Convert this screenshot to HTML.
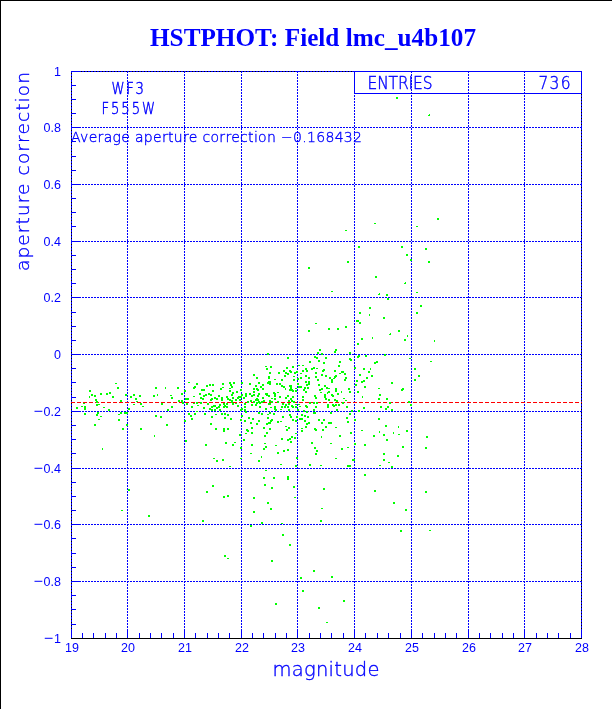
<!DOCTYPE html>
<html><head><meta charset="utf-8"><title>HSTPHOT: Field lmc_u4b107</title>
<style>
html,body{margin:0;padding:0;background:#fff;}
body{width:612px;height:709px;overflow:hidden;}
svg{display:block;}
text{fill:#0000ff;}
</style></head><body>
<svg width="612" height="709" viewBox="0 0 612 709">
<rect width="612" height="709" fill="#fff"/>
<g shape-rendering="crispEdges">
<rect x="0" y="0" width="612" height="1" fill="#000"/>
<rect x="0" y="0" width="1" height="709" fill="#000"/>
<g fill="#000">
<rect x="71" y="71" width="511" height="1"/>
<rect x="71" y="638" width="511" height="1"/>
<rect x="71" y="71" width="1" height="568"/>
<rect x="581" y="71" width="1" height="568"/>
</g>
<path d="M71.5 71V638M127.5 71V638M184.5 71V638M241.5 71V638M297.5 71V638M354.5 71V638M411.5 71V638M468.5 71V638M524.5 71V638M581.5 71V638" stroke="#0000ff" stroke-width="1" stroke-dasharray="2 1" fill="none"/>
<path d="M71 71.5H582M71 127.5H582M71 184.5H582M71 241.5H582M71 297.5H582M71 354.5H582M71 411.5H582M71 468.5H582M71 524.5H582M71 581.5H582" stroke="#0000ff" stroke-width="1" stroke-dasharray="2 1" stroke-dashoffset="1" fill="none"/>
<path d="M71 71.5h10M71 85.5h5M71 99.5h5M71 113.5h5M71 127.5h10M71 141.5h5M71 156.5h5M71 170.5h5M71 184.5h10M71 198.5h5M71 212.5h5M71 226.5h5M71 241.5h10M71 255.5h5M71 269.5h5M71 283.5h5M71 297.5h10M71 312.5h5M71 326.5h5M71 340.5h5M71 354.5h10M71 368.5h5M71 382.5h5M71 397.5h5M71 411.5h10M71 425.5h5M71 439.5h5M71 453.5h5M71 468.5h10M71 482.5h5M71 496.5h5M71 510.5h5M71 524.5h10M71 538.5h5M71 553.5h5M71 567.5h5M71 581.5h10M71 595.5h5M71 609.5h5M71 624.5h5M71.5 638v-9M82.5 638v-5M93.5 638v-5M105.5 638v-5M116.5 638v-5M127.5 638v-9M139.5 638v-5M150.5 638v-5M161.5 638v-5M173.5 638v-5M184.5 638v-9M195.5 638v-5M207.5 638v-5M218.5 638v-5M229.5 638v-5M241.5 638v-9M252.5 638v-5M263.5 638v-5M275.5 638v-5M286.5 638v-5M297.5 638v-9M309.5 638v-5M320.5 638v-5M331.5 638v-5M343.5 638v-5M354.5 638v-9M365.5 638v-5M377.5 638v-5M388.5 638v-5M400.5 638v-5M411.5 638v-9M422.5 638v-5M434.5 638v-5M445.5 638v-5M456.5 638v-5M468.5 638v-9M479.5 638v-5M490.5 638v-5M502.5 638v-5M513.5 638v-5M524.5 638v-9M536.5 638v-5M547.5 638v-5M558.5 638v-5M570.5 638v-5M581.5 638v-9" stroke="#0000ff" stroke-width="1" fill="none"/>
<rect x="71" y="638" width="511" height="1" fill="#000"/>
<path d="M71 402.5H582" stroke="#ff0000" stroke-width="1" stroke-dasharray="4 2" fill="none"/>
<rect x="354.5" y="71.5" width="227" height="22" stroke="#0000ff" fill="none"/>
</g>
<path d="M76 407h2v2h-2zM81 406h2v1h-2zM83 403h2v1h-2zM84 406h2v2h-2zM84 408h2v2h-2zM84 413h2v2h-2zM89 396h1v2h-1zM89 390h2v2h-2zM91 394h2v2h-2zM94 395h2v2h-2zM94 424h2v2h-2zM95 399h2v2h-2zM96 401h2v2h-2zM96 404h2v2h-2zM96 414h2v2h-2zM97 412h2v2h-2zM98 404h2v1h-2zM98 419h2v1h-2zM100 393h2v2h-2zM100 416h2v1h-2zM102 448h1v2h-1zM103 407h2v1h-2zM106 393h2v2h-2zM108 409h2v2h-2zM109 392h2v2h-2zM112 396h2v2h-2zM115 383h2v1h-2zM117 387h2v2h-2zM118 414h2v1h-2zM118 419h2v2h-2zM120 400h2v2h-2zM120 412h2v2h-2zM121 510h2v1h-2zM122 428h2v2h-2zM124 412h2v2h-2zM125 394h2v2h-2zM126 412h2v2h-2zM126 424h2v2h-2zM128 408h2v2h-2zM128 489h2v2h-2zM130 396h2v2h-2zM133 394h2v2h-2zM133 404h2v1h-2zM135 398h2v2h-2zM136 401h2v1h-2zM139 395h2v2h-2zM140 403h2v2h-2zM140 428h2v2h-2zM142 406h2v1h-2zM148 515h2v2h-2zM153 395h2v2h-2zM154 435h1v2h-1zM155 387h2v2h-2zM155 415h2v2h-2zM157 394h1v2h-1zM160 416h2v2h-2zM161 403h2v2h-2zM165 387h1v2h-1zM166 424h2v2h-2zM167 409h2v2h-2zM170 395h2v1h-2zM171 397h2v2h-2zM171 406h2v2h-2zM177 387h2v2h-2zM178 400h2v2h-2zM181 393h2v2h-2zM181 400h2v2h-2zM182 402h2v2h-2zM184 390h2v2h-2zM184 420h2v2h-2zM185 398h2v2h-2zM185 440h2v2h-2zM186 403h2v2h-2zM187 398h2v2h-2zM188 382h2v1h-2zM188 413h2v2h-2zM190 415h2v2h-2zM191 406h2v2h-2zM191 418h2v2h-2zM193 387h2v2h-2zM193 396h2v1h-2zM193 403h2v1h-2zM194 386h2v2h-2zM194 413h2v2h-2zM196 383h2v2h-2zM196 402h2v2h-2zM196 411h2v1h-2zM197 405h2v1h-2zM199 393h2v2h-2zM200 397h2v2h-2zM200 402h2v2h-2zM201 389h2v2h-2zM202 398h2v2h-2zM202 520h2v2h-2zM203 389h2v2h-2zM203 395h2v2h-2zM203 407h2v2h-2zM204 413h2v2h-2zM205 394h2v2h-2zM205 444h2v2h-2zM206 385h2v2h-2zM206 491h2v2h-2zM207 403h2v2h-2zM208 393h2v2h-2zM209 384h2v2h-2zM209 408h2v2h-2zM210 394h2v2h-2zM210 399h2v2h-2zM210 423h2v2h-2zM211 398h2v2h-2zM211 406h2v2h-2zM211 409h2v2h-2zM211 416h2v2h-2zM212 384h2v2h-2zM212 390h2v2h-2zM212 485h2v2h-2zM213 405h2v2h-2zM213 458h2v1h-2zM214 397h2v2h-2zM214 405h2v2h-2zM214 409h2v2h-2zM215 414h2v1h-2zM215 428h2v2h-2zM216 398h2v2h-2zM216 407h2v2h-2zM216 460h2v2h-2zM218 395h2v2h-2zM218 406h2v2h-2zM219 404h2v2h-2zM219 409h2v2h-2zM220 388h2v2h-2zM221 397h2v2h-2zM221 399h2v2h-2zM221 413h2v2h-2zM222 383h2v2h-2zM222 387h2v1h-2zM222 459h2v2h-2zM223 403h2v2h-2zM223 406h2v2h-2zM223 428h2v2h-2zM223 430h2v2h-2zM223 496h2v2h-2zM224 405h2v2h-2zM224 413h2v2h-2zM224 417h2v2h-2zM224 555h2v2h-2zM225 442h2v2h-2zM226 396h2v2h-2zM226 403h2v2h-2zM226 406h2v2h-2zM227 398h2v2h-2zM227 414h2v2h-2zM227 428h2v2h-2zM227 495h2v2h-2zM227 558h2v1h-2zM229 382h2v2h-2zM229 388h2v1h-2zM229 390h2v2h-2zM229 399h2v2h-2zM229 466h2v1h-2zM230 384h2v2h-2zM230 418h2v2h-2zM231 386h2v2h-2zM231 394h2v2h-2zM231 400h2v2h-2zM231 401h2v2h-2zM232 392h2v2h-2zM232 397h2v2h-2zM232 403h2v2h-2zM232 444h2v2h-2zM233 382h2v2h-2zM234 442h2v1h-2zM235 399h2v2h-2zM235 403h2v1h-2zM236 391h2v2h-2zM237 397h2v2h-2zM237 405h2v2h-2zM238 396h2v2h-2zM239 399h2v2h-2zM239 434h2v2h-2zM240 389h2v2h-2zM240 396h2v2h-2zM240 409h2v2h-2zM240 419h2v2h-2zM240 447h2v2h-2zM240 458h2v1h-2zM241 382h2v2h-2zM241 394h2v2h-2zM241 408h2v2h-2zM241 415h2v2h-2zM243 397h2v2h-2zM243 439h2v2h-2zM244 403h2v2h-2zM244 406h2v2h-2zM244 409h2v2h-2zM244 420h2v2h-2zM245 393h2v2h-2zM245 395h2v2h-2zM245 411h2v2h-2zM245 433h2v1h-2zM246 429h2v2h-2zM247 401h2v2h-2zM247 430h2v2h-2zM248 417h2v2h-2zM249 383h2v2h-2zM249 393h2v2h-2zM250 400h2v2h-2zM250 422h2v2h-2zM250 453h2v1h-2zM250 525h2v2h-2zM251 395h2v2h-2zM251 404h2v2h-2zM251 427h2v2h-2zM251 432h2v2h-2zM251 444h2v2h-2zM252 418h2v2h-2zM253 374h2v2h-2zM253 388h2v2h-2zM253 391h2v2h-2zM253 394h2v2h-2zM253 401h2v2h-2zM253 497h2v2h-2zM253 511h2v2h-2zM255 385h2v2h-2zM255 399h2v2h-2zM255 404h2v2h-2zM256 377h2v2h-2zM256 388h2v2h-2zM256 398h2v2h-2zM256 402h2v2h-2zM256 423h2v2h-2zM257 389h2v2h-2zM257 395h2v2h-2zM257 399h2v2h-2zM258 382h2v2h-2zM258 393h2v2h-2zM258 401h2v2h-2zM258 412h2v2h-2zM258 420h2v2h-2zM258 460h2v2h-2zM259 402h2v2h-2zM259 406h2v2h-2zM260 386h2v2h-2zM261 456h1v2h-1zM261 401h2v2h-2zM261 413h2v2h-2zM261 522h2v2h-2zM262 384h2v2h-2zM262 388h2v2h-2zM262 397h2v2h-2zM263 400h2v2h-2zM263 427h2v2h-2zM263 448h2v2h-2zM263 477h2v2h-2zM264 435h2v2h-2zM264 443h2v1h-2zM264 484h2v2h-2zM265 366h2v1h-2zM265 393h2v2h-2zM265 408h2v2h-2zM265 446h2v2h-2zM265 470h2v1h-2zM266 368h2v2h-2zM266 393h2v2h-2zM266 394h2v2h-2zM266 423h2v2h-2zM266 432h2v2h-2zM267 353h2v2h-2zM267 382h2v2h-2zM267 414h2v1h-2zM267 417h2v2h-2zM267 502h2v2h-2zM268 376h2v2h-2zM268 377h2v2h-2zM268 381h2v2h-2zM268 395h2v2h-2zM268 403h2v2h-2zM268 422h2v2h-2zM269 372h2v2h-2zM269 381h2v2h-2zM269 383h2v2h-2zM269 400h2v2h-2zM269 403h2v2h-2zM269 412h2v2h-2zM269 422h2v2h-2zM269 428h2v2h-2zM270 366h2v2h-2zM270 407h2v1h-2zM270 420h2v2h-2zM270 508h2v2h-2zM271 398h2v1h-2zM271 401h2v2h-2zM271 419h2v2h-2zM271 487h2v2h-2zM271 560h2v2h-2zM273 392h2v2h-2zM273 413h2v2h-2zM273 477h2v2h-2zM274 379h2v1h-2zM274 393h2v2h-2zM274 395h2v2h-2zM274 398h2v2h-2zM274 406h2v2h-2zM274 408h2v2h-2zM275 409h2v2h-2zM275 445h2v1h-2zM275 603h2v2h-2zM276 383h2v2h-2zM277 392h2v1h-2zM277 401h2v2h-2zM277 421h2v2h-2zM277 452h2v2h-2zM278 372h2v2h-2zM279 383h2v2h-2zM279 396h2v2h-2zM280 409h2v1h-2zM280 421h2v1h-2zM280 464h2v1h-2zM281 379h2v2h-2zM281 385h2v2h-2zM281 406h2v2h-2zM281 438h2v2h-2zM281 523h2v1h-2zM282 403h2v2h-2zM282 416h2v2h-2zM282 534h2v2h-2zM283 370h2v2h-2zM283 386h2v2h-2zM283 450h2v2h-2zM284 375h2v2h-2zM285 388h1v2h-1zM284 406h2v2h-2zM285 372h2v2h-2zM285 397h2v2h-2zM285 404h2v2h-2zM285 426h2v1h-2zM286 367h2v2h-2zM286 429h2v2h-2zM287 357h2v2h-2zM287 373h2v2h-2zM287 395h2v2h-2zM287 406h2v2h-2zM287 439h2v2h-2zM287 449h2v2h-2zM287 476h2v2h-2zM287 478h2v2h-2zM289 385h1v2h-1zM288 400h2v2h-2zM288 403h2v2h-2zM288 409h2v2h-2zM288 427h2v2h-2zM289 370h2v2h-2zM289 389h2v2h-2zM289 414h2v2h-2zM289 438h2v2h-2zM289 544h2v2h-2zM290 371h2v2h-2zM290 385h2v2h-2zM290 387h2v2h-2zM290 398h2v2h-2zM290 416h2v2h-2zM290 441h2v2h-2zM291 389h2v2h-2zM291 400h2v2h-2zM291 405h2v2h-2zM291 436h2v2h-2zM292 366h2v2h-2zM292 390h2v2h-2zM292 396h2v2h-2zM292 406h2v2h-2zM292 419h2v2h-2zM293 376h2v1h-2zM293 379h2v2h-2zM293 401h2v2h-2zM293 486h2v2h-2zM294 372h2v2h-2zM294 437h2v2h-2zM294 497h2v1h-2zM295 388h2v1h-2zM295 390h2v2h-2zM295 404h2v1h-2zM295 406h2v2h-2zM295 420h2v2h-2zM295 433h2v1h-2zM295 465h2v2h-2zM296 371h2v2h-2zM296 416h2v2h-2zM296 457h2v2h-2zM297 378h2v2h-2zM297 383h2v2h-2zM297 409h2v2h-2zM298 365h2v1h-2zM298 386h2v2h-2zM298 404h2v1h-2zM299 406h2v1h-2zM299 418h2v2h-2zM300 373h2v1h-2zM300 377h2v2h-2zM300 386h2v2h-2zM300 577h2v2h-2zM301 414h2v2h-2zM301 418h2v2h-2zM301 428h2v1h-2zM301 430h2v2h-2zM302 365h2v1h-2zM302 370h2v2h-2zM302 396h2v2h-2zM302 399h2v2h-2zM302 590h2v2h-2zM303 389h2v2h-2zM303 410h2v2h-2zM304 387h2v2h-2zM304 415h2v2h-2zM304 420h2v2h-2zM305 368h2v2h-2zM305 375h2v2h-2zM305 381h2v2h-2zM305 391h2v2h-2zM305 405h2v2h-2zM305 426h2v2h-2zM306 370h2v2h-2zM306 384h2v2h-2zM306 406h2v2h-2zM306 411h2v2h-2zM306 423h2v2h-2zM307 387h2v2h-2zM307 416h2v2h-2zM308 267h2v2h-2zM308 330h2v2h-2zM308 377h2v2h-2zM308 381h2v2h-2zM308 383h2v2h-2zM308 422h2v2h-2zM309 361h2v2h-2zM309 402h2v2h-2zM309 464h2v2h-2zM311 368h2v2h-2zM311 442h2v2h-2zM313 367h2v2h-2zM313 402h2v2h-2zM313 409h2v2h-2zM313 412h2v2h-2zM313 570h2v2h-2zM314 356h2v2h-2zM314 395h2v2h-2zM314 412h2v2h-2zM314 428h2v2h-2zM314 447h2v2h-2zM315 323h2v1h-2zM315 372h2v2h-2zM315 376h2v2h-2zM315 397h2v2h-2zM315 406h2v2h-2zM315 429h2v2h-2zM315 453h2v2h-2zM316 357h2v2h-2zM316 368h2v1h-2zM316 402h2v2h-2zM316 450h2v2h-2zM317 352h2v2h-2zM317 379h2v2h-2zM318 360h2v2h-2zM318 384h2v2h-2zM318 419h2v2h-2zM318 607h2v2h-2zM319 349h2v2h-2zM319 389h2v2h-2zM320 392h2v1h-2zM321 436h1v2h-1zM320 465h2v1h-2zM320 520h2v2h-2zM321 353h2v2h-2zM321 374h2v2h-2zM321 388h2v2h-2zM321 422h2v2h-2zM321 508h2v1h-2zM322 370h2v2h-2zM322 429h2v2h-2zM323 362h2v2h-2zM323 369h2v2h-2zM323 419h2v2h-2zM323 488h2v2h-2zM324 385h2v2h-2zM324 394h2v2h-2zM324 396h2v2h-2zM325 357h2v2h-2zM325 375h2v2h-2zM325 398h2v2h-2zM325 426h2v2h-2zM326 387h2v2h-2zM327 392h1v2h-1zM326 622h2v1h-2zM327 404h2v2h-2zM327 406h2v2h-2zM328 328h2v2h-2zM328 388h2v1h-2zM328 391h2v2h-2zM328 399h2v2h-2zM328 422h2v2h-2zM329 377h2v2h-2zM330 412h2v2h-2zM330 422h2v2h-2zM330 443h2v1h-2zM331 291h2v1h-2zM331 379h2v2h-2zM331 381h2v2h-2zM331 394h2v2h-2zM331 576h2v2h-2zM332 395h2v2h-2zM332 404h2v2h-2zM333 378h2v1h-2zM333 405h2v2h-2zM334 351h2v2h-2zM334 370h2v2h-2zM334 376h2v2h-2zM334 399h2v2h-2zM335 349h2v2h-2zM335 375h2v2h-2zM335 388h2v2h-2zM335 390h2v2h-2zM335 404h2v2h-2zM335 427h2v1h-2zM335 458h2v1h-2zM336 400h2v2h-2zM336 409h2v2h-2zM337 328h2v2h-2zM337 393h2v2h-2zM338 365h2v2h-2zM338 404h2v2h-2zM339 361h2v2h-2zM339 373h2v1h-2zM339 435h2v2h-2zM341 391h1v2h-1zM341 371h2v2h-2zM341 448h2v2h-2zM342 371h2v2h-2zM342 402h2v2h-2zM343 398h2v1h-2zM343 600h2v2h-2zM344 373h2v2h-2zM344 379h2v2h-2zM345 230h2v1h-2zM345 326h2v2h-2zM345 377h2v2h-2zM345 400h2v1h-2zM346 406h2v2h-2zM346 417h2v2h-2zM347 261h2v2h-2zM347 421h2v2h-2zM347 447h2v1h-2zM347 465h2v2h-2zM348 388h2v2h-2zM349 352h2v2h-2zM349 358h2v2h-2zM349 391h2v2h-2zM349 413h2v2h-2zM349 465h2v2h-2zM350 359h2v2h-2zM350 432h2v2h-2zM351 410h2v2h-2zM352 459h2v2h-2zM353 459h2v2h-2zM354 367h2v2h-2zM354 419h2v2h-2zM354 443h2v2h-2zM355 384h2v2h-2zM356 320h2v2h-2zM356 380h2v2h-2zM357 320h2v2h-2zM357 343h2v2h-2zM357 356h2v2h-2zM357 391h2v2h-2zM358 246h2v2h-2zM358 355h2v2h-2zM358 410h2v2h-2zM359 312h2v2h-2zM359 322h2v2h-2zM359 374h2v2h-2zM361 338h2v2h-2zM361 381h2v2h-2zM362 396h1v2h-1zM361 430h2v1h-2zM363 368h2v2h-2zM363 380h2v2h-2zM363 407h2v2h-2zM364 386h2v2h-2zM364 444h2v2h-2zM364 474h2v2h-2zM365 355h2v2h-2zM366 377h2v2h-2zM369 314h1v2h-1zM368 371h2v2h-2zM369 307h2v2h-2zM370 368h1v2h-1zM372 337h1v2h-1zM371 375h2v2h-2zM373 435h2v2h-2zM374 223h2v1h-2zM374 362h2v2h-2zM374 490h2v2h-2zM375 276h2v2h-2zM376 361h2v2h-2zM379 293h1v2h-2v-1h1zM378 388h2v1h-2zM378 398h2v2h-2zM378 418h2v2h-2zM379 431h1v2h-1zM379 394h2v2h-2zM379 465h2v1h-2zM380 406h2v2h-2zM383 317h2v2h-2zM383 434h2v2h-2zM383 453h2v2h-2zM383 459h2v2h-2zM384 354h2v2h-2zM385 408h2v2h-2zM385 425h2v2h-2zM386 294h2v2h-2zM386 398h2v2h-2zM386 439h2v2h-2zM387 298h2v2h-2zM387 406h2v2h-2zM388 462h2v1h-2zM390 333h1v2h-2v-1h1zM389 402h2v2h-2zM391 382h2v2h-2zM391 409h2v2h-2zM391 466h2v2h-2zM393 432h1v2h-1zM393 502h2v2h-2zM396 97h2v2h-2zM398 426h1v2h-1zM397 455h2v2h-2zM398 330h2v2h-2zM398 434h2v1h-2zM400 530h2v2h-2zM401 246h2v2h-2zM401 389h2v2h-2zM402 388h2v2h-2zM402 446h2v2h-2zM405 282h1v2h-2v-1h1zM404 339h2v2h-2zM405 509h2v2h-2zM406 254h2v2h-2zM407 335h1v2h-1zM406 430h2v2h-2zM408 401h2v2h-2zM409 358h2v1h-2zM410 259h2v2h-2zM410 404h2v2h-2zM414 368h2v2h-2zM414 379h2v2h-2zM416 226h2v1h-2zM416 292h2v1h-2zM416 312h2v2h-2zM418 375h2v2h-2zM420 305h2v2h-2zM425 248h2v2h-2zM425 447h2v2h-2zM425 491h2v2h-2zM426 436h2v2h-2zM429 114h1v2h-2v-1h1zM428 261h2v2h-2zM429 530h2v1h-2zM430 361h2v1h-2zM434 340h1v2h-1zM437 218h2v2h-2z" fill="#00ff00" shape-rendering="crispEdges"/>
<text x="150" y="46" font-family="'Liberation Serif', serif" font-weight="700" font-size="26" textLength="326" lengthAdjust="spacingAndGlyphs" fill="#0000ff">HSTPHOT: Field lmc_u4b107</text>
<g font-family="'DejaVu Sans', 'Liberation Sans', sans-serif" font-weight="200" stroke="#0000ff" stroke-width="0.35">
<text x="61" y="76" text-anchor="end" font-size="12.5" font-family="Liberation Sans, sans-serif" font-weight="400" stroke="none">1</text>
<text x="61" y="132" text-anchor="end" font-size="12.5" font-family="Liberation Sans, sans-serif" font-weight="400" stroke="none">0.8</text>
<text x="61" y="189" text-anchor="end" font-size="12.5" font-family="Liberation Sans, sans-serif" font-weight="400" stroke="none">0.6</text>
<text x="61" y="246" text-anchor="end" font-size="12.5" font-family="Liberation Sans, sans-serif" font-weight="400" stroke="none">0.4</text>
<text x="61" y="302" text-anchor="end" font-size="12.5" font-family="Liberation Sans, sans-serif" font-weight="400" stroke="none">0.2</text>
<text x="61" y="359" text-anchor="end" font-size="12.5" font-family="Liberation Sans, sans-serif" font-weight="400" stroke="none">0</text>
<text x="61" y="416" text-anchor="end" font-size="12.5" font-family="Liberation Sans, sans-serif" font-weight="400" stroke="none"><tspan font-family="DejaVu Sans" dy="-1">−</tspan><tspan dy="1">0.2</tspan></text>
<text x="61" y="473" text-anchor="end" font-size="12.5" font-family="Liberation Sans, sans-serif" font-weight="400" stroke="none"><tspan font-family="DejaVu Sans" dy="-1">−</tspan><tspan dy="1">0.4</tspan></text>
<text x="61" y="529" text-anchor="end" font-size="12.5" font-family="Liberation Sans, sans-serif" font-weight="400" stroke="none"><tspan font-family="DejaVu Sans" dy="-1">−</tspan><tspan dy="1">0.6</tspan></text>
<text x="61" y="586" text-anchor="end" font-size="12.5" font-family="Liberation Sans, sans-serif" font-weight="400" stroke="none"><tspan font-family="DejaVu Sans" dy="-1">−</tspan><tspan dy="1">0.8</tspan></text>
<text x="61" y="643" text-anchor="end" font-size="12.5" font-family="Liberation Sans, sans-serif" font-weight="400" stroke="none"><tspan font-family="DejaVu Sans" dy="-1">−</tspan><tspan dy="1">1</tspan></text>
<text x="72" y="652" text-anchor="middle" font-size="12.5" font-family="Liberation Sans, sans-serif" font-weight="400" stroke="none">19</text>
<text x="128" y="652" text-anchor="middle" font-size="12.5" font-family="Liberation Sans, sans-serif" font-weight="400" stroke="none">20</text>
<text x="185" y="652" text-anchor="middle" font-size="12.5" font-family="Liberation Sans, sans-serif" font-weight="400" stroke="none">21</text>
<text x="242" y="652" text-anchor="middle" font-size="12.5" font-family="Liberation Sans, sans-serif" font-weight="400" stroke="none">22</text>
<text x="298" y="652" text-anchor="middle" font-size="12.5" font-family="Liberation Sans, sans-serif" font-weight="400" stroke="none">23</text>
<text x="355" y="652" text-anchor="middle" font-size="12.5" font-family="Liberation Sans, sans-serif" font-weight="400" stroke="none">24</text>
<text x="412" y="652" text-anchor="middle" font-size="12.5" font-family="Liberation Sans, sans-serif" font-weight="400" stroke="none">25</text>
<text x="469" y="652" text-anchor="middle" font-size="12.5" font-family="Liberation Sans, sans-serif" font-weight="400" stroke="none">26</text>
<text x="525" y="652" text-anchor="middle" font-size="12.5" font-family="Liberation Sans, sans-serif" font-weight="400" stroke="none">27</text>
<text x="582" y="652" text-anchor="middle" font-size="12.5" font-family="Liberation Sans, sans-serif" font-weight="400" stroke="none">28</text>
<text x="272.5" y="676" font-size="19.5" textLength="107" lengthAdjust="spacing">magnitude</text>
<text transform="translate(29 271) rotate(-90)" x="0" y="0" font-size="18.5" textLength="199" lengthAdjust="spacing">aperture correction</text>
<text transform="scale(0.8 1)" x="139.38" y="94" font-size="16.5" textLength="40.62" lengthAdjust="spacing" stroke-width="0.5">WF3</text>
<text transform="scale(0.8 1)" x="126.88" y="114" font-size="16.5" textLength="66.88" lengthAdjust="spacing" stroke-width="0.5">F555W</text>
<text x="71" y="142" font-size="14" textLength="291" lengthAdjust="spacing">Average aperture correction −0.168432</text>
<text transform="scale(0.86 1)" x="427.33" y="89" font-size="18" textLength="75.58" lengthAdjust="spacing" stroke-width="0.45">ENTRIES</text>
<text transform="scale(0.86 1)" x="626.16" y="89" font-size="18" textLength="37.21" lengthAdjust="spacing" stroke-width="0.45">736</text>
</g>
</svg>
</body></html>
